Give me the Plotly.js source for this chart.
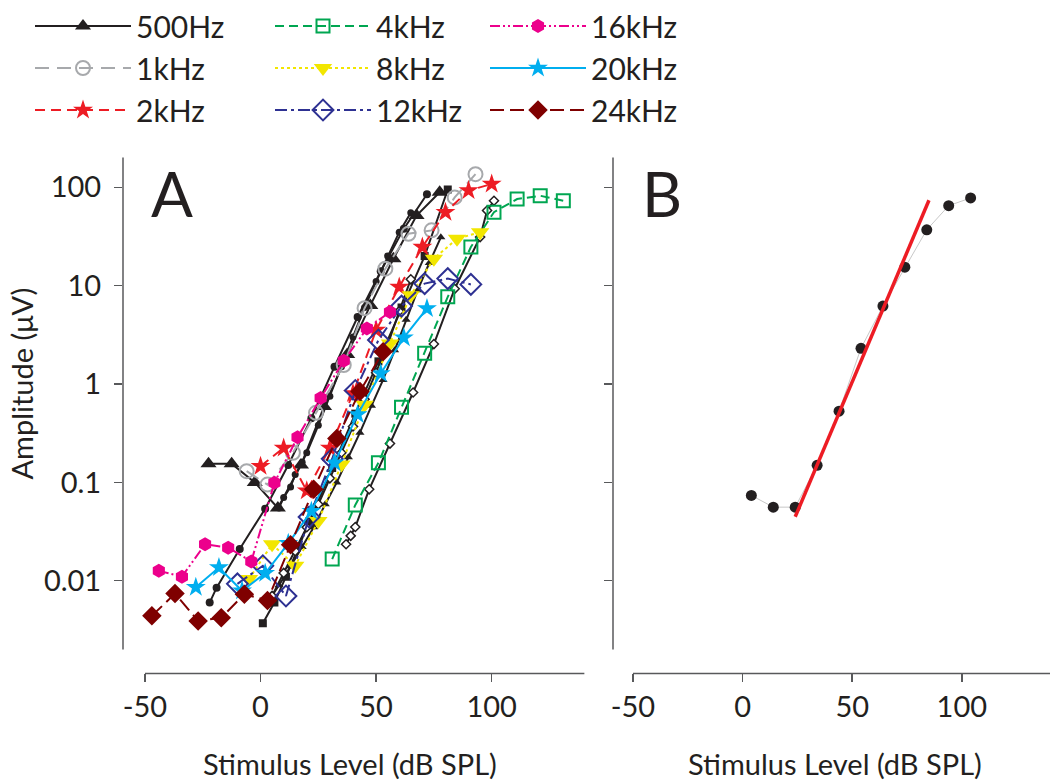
<!DOCTYPE html>
<html>
<head>
<meta charset="utf-8">
<script src="https://cdn.plot.ly/plotly-3.0.1.min.js"></script>
<style>
html,body{margin:0;padding:0;background:#fff;}
#chart{width:1050px;height:783px;}
</style>
</head>
<body>
<div id="chart"></div>
<script>
// ---------- Panel A data (Stimulus level dB SPL, amplitude µV) ----------
const x500 = [-22.5, -12.5, -2.5, 7.5, 17.5, 27.5, 37.5, 47.5, 57.5, 67.5, 77.5];
const y500 = [0.155, 0.155, 0.1, 0.055, 0.15, 0.59, 2.0, 6.3, 18.8, 51.7, 89];

const x1k = [-6, 3, 14, 24, 36, 45, 54, 64, 74, 84, 93];
const y1k = [0.13, 0.095, 0.2, 0.51, 1.56, 5.9, 14.9, 33.7, 36.5, 79, 136];

const x2k = [0, 10, 20, 30, 40, 50, 60, 70, 80, 90, 100];
const y2k = [0.146, 0.224, 0.082, 0.224, 0.8, 3.54, 9.7, 24.7, 55.8, 92.6, 108];

const x4k = [31, 41, 51, 61, 71, 81, 91, 101, 111, 121, 131];
const y4k = [0.0166, 0.059, 0.158, 0.58, 2.05, 7.7, 24.7, 55.9, 76, 82, 73];

const x8k = [-5, 5, 15, 25, 35, 45, 56, 65, 75, 85, 95];
const y8k = [0.0104, 0.0235, 0.0142, 0.0405, 0.152, 0.615, 2.59, 8.0, 18.8, 30, 35];

const x12k = [-10, 1, 11, 21, 31, 41, 51, 61, 71, 81, 91];
const y12k = [0.0093, 0.0142, 0.007, 0.0445, 0.174, 0.86, 2.8, 6.2, 10.5, 11.8, 10.3];

const x16k = [-44, -34, -24, -14, -4, 6, 16, 26, 36, 46, 56];
const y16k = [0.0126, 0.011, 0.0235, 0.0217, 0.0157, 0.099, 0.287, 0.72, 1.72, 3.67, 5.4];

const x20k = [-28, -18, -8, 2, 12, 22, 32, 42, 52, 62, 72];
const y20k = [0.0086, 0.0136, 0.0079, 0.0119, 0.024, 0.051, 0.158, 0.49, 1.28, 2.96, 5.86];

const x24k = [-47, -37, -27, -17, -7, 3, 13, 23, 33, 43, 53];
const y24k = [0.0044, 0.0074, 0.0039, 0.0042, 0.0073, 0.0063, 0.0232, 0.085, 0.28, 0.84, 2.13];

// unlabeled black series (other recordings)
const xK1 = [-22, -19, -9, 2, 12, 22, 32, 42, 52, 62, 72];
const yK1 = [0.006, 0.0085, 0.021, 0.054, 0.15, 0.45, 1.5, 4.8, 14, 38, 85];
const xK2 = [8, 10, 13, 15, 18, 20, 25, 30, 35, 40, 45, 50, 55, 60, 65];
const yK2 = [0.055, 0.07, 0.09, 0.12, 0.16, 0.2, 0.38, 0.75, 1.5, 3, 6, 11, 20, 35, 55];
const xK3 = [1, 6, 11, 21, 31, 41, 51, 61, 71, 81];
const yK3 = [0.0037, 0.006, 0.011, 0.04, 0.14, 0.5, 1.7, 6, 20, 95];
const xK4 = [3, 8, 13, 18, 23, 28, 33, 38, 43, 48, 53, 58, 63, 68, 73, 78];
const yK4 = [0.006, 0.009, 0.014, 0.022, 0.035, 0.06, 0.1, 0.18, 0.32, 0.6, 1.1, 2.2, 4.5, 9, 17, 31];
const xK5 = [5, 10, 15, 20, 25, 30, 35, 40, 45, 50, 55, 60, 65];
const yK5 = [0.007, 0.012, 0.02, 0.035, 0.06, 0.11, 0.2, 0.37, 0.7, 1.3, 2.5, 5.5, 11.6];
const xK6 = [37, 39, 41, 47, 56, 66, 75, 84, 95, 98, 101];
const yK6 = [0.0235, 0.0286, 0.0352, 0.085, 0.248, 0.82, 2.55, 9.3, 31.2, 58, 73];

// ---------- Panel B data ----------
const xB = [4, 14, 24, 34, 44, 54, 64, 74, 84, 94, 104];
const yB = [0.0737, 0.056, 0.056, 0.149, 0.53, 2.31, 6.2, 15.4, 37, 65, 78];
const xFit = [24, 85];
const yFit = [0.0447, 73.8];

// tick labels
const xTickVals = [-50, 0, 50, 100];
const xTickText = ['-50', '0', '50', '100'];
const yTickVals = [0.01, 0.1, 1, 10, 100];
const yTickText = ['0.01', '0.1', '1', '10', '100'];

const FONT = 'Lato, "Open Sans", sans-serif';
const W = 1050, H = 783;
const px = v => v / W;
const py = v => 1 - v / H;

function black(x, y, sym, size, open) {
  return {
    x: x, y: y, type: 'scatter', mode: 'lines+markers', showlegend: false,
    xaxis: 'x', yaxis: 'y', hoverinfo: 'skip',
    line: {color: '#231f20', width: 2},
    marker: {symbol: sym, size: size, color: open ? '#ffffff' : '#231f20',
             line: {color: '#231f20', width: open ? 1.5 : 0}}
  };
}

function series(name, x, y, color, dash, sym, size, legend, open) {
  return {
    name: name, x: x, y: y, type: 'scatter', mode: 'lines+markers',
    xaxis: 'x', yaxis: 'y', legend: legend,
    line: {color: color, width: 2, dash: dash},
    marker: {symbol: sym, size: size, color: open ? 'rgba(255,255,255,0)' : color,
             line: {color: color, width: open ? 2 : 0}}
  };
}

const traces = [
  black(xK1, yK1, 'circle', 8, false),
  black(xK2, yK2, 'circle', 7, false),
  black(xK3, yK3, 'square', 8, false),
  black(xK4, yK4, 'triangle-up', 8, false),
  black(xK5, yK5, 'diamond', 7, true),
  black(xK6, yK6, 'diamond', 7, true),
  series('500Hz', x500, y500, '#231f20', 'solid', 'triangle-up', 14, 'legend', false),
  series('1kHz', x1k, y1k, '#a7a9ac', '14px,8px', 'circle', 14, 'legend', true),
  series('2kHz', x2k, y2k, '#ed1c24', '10px,6px', 'star', 15, 'legend', false),
  series('4kHz', x4k, y4k, '#00a651', '9px,5px', 'square', 13, 'legend2', true),
  series('8kHz', x8k, y8k, '#f2e600', 'dot', 'triangle-down', 16, 'legend2', false),
  series('12kHz', x12k, y12k, '#2e3192', '12px,4px,3px,4px', 'diamond', 16, 'legend2', true),
  series('16kHz', x16k, y16k, '#ec008c', '10px,3px,2px,3px,2px,3px', 'hexagon', 14, 'legend3', false),
  series('20kHz', x20k, y20k, '#00aeef', 'solid', 'star', 15, 'legend3', false),
  series('24kHz', x24k, y24k, '#7f0000', '14px,6px', 'diamond', 15, 'legend3', false),
  {x: xB, y: yB, type: 'scatter', mode: 'lines+markers', showlegend: false,
   xaxis: 'x2', yaxis: 'y2', line: {color: '#c8c8c8', width: 1},
   marker: {symbol: 'circle', size: 11, color: '#231f20'}},
  {x: xFit, y: yFit, type: 'scatter', mode: 'lines', showlegend: false,
   xaxis: 'x2', yaxis: 'y2', line: {color: '#ed1c24', width: 3.5}}
];

const yRange = [Math.log10(0.001142), Math.log10(201.4)];
const tickStyle = {ticks: 'outside', ticklen: 8, tickwidth: 1.5, tickcolor: '#58595b',
  showline: false, showgrid: false, zeroline: false,
  tickfont: {family: FONT, size: 29, color: '#231f20'}};

const legendBase = {orientation: 'v', yanchor: 'top', xanchor: 'left', y: py(-3),
  font: {family: FONT, size: 30, color: '#231f20'}, bgcolor: 'rgba(0,0,0,0)',
  tracegroupgap: 0, itemwidth: 96};

const layout = {
  width: W, height: H,
  margin: {l: 0, r: 0, t: 0, b: 0},
  paper_bgcolor: '#ffffff', plot_bgcolor: '#ffffff',
  font: {family: FONT, color: '#231f20'},
  xaxis: Object.assign({}, tickStyle, {domain: [px(123), px(584.6)], range: [-59.5, 140.2],
    anchor: 'y', tickvals: xTickVals, ticktext: xTickText, ticklabelstandoff: 0}),
  yaxis: Object.assign({}, tickStyle, {domain: [py(673), py(155)], type: 'log', range: yRange,
    anchor: 'x', tickvals: yTickVals, ticktext: yTickText, ticklabelstandoff: 7}),
  xaxis2: Object.assign({}, tickStyle, {domain: [px(613), 1], range: [-59.1, 140.2],
    anchor: 'y2', tickvals: xTickVals, ticktext: xTickText, ticklabelstandoff: 0}),
  yaxis2: Object.assign({}, tickStyle, {domain: [py(673), py(155)], type: 'log', range: yRange,
    anchor: 'x2', tickvals: yTickVals, showticklabels: false}),
  legend: Object.assign({}, legendBase, {x: px(30)}),
  legend2: Object.assign({}, legendBase, {x: px(270)}),
  legend3: Object.assign({}, legendBase, {x: px(485)}),
  shapes: [
    {type: 'line', xref: 'paper', yref: 'paper', x0: px(123), x1: px(123), y0: py(155), y1: py(649),
     line: {color: '#58595b', width: 1.5}},
    {type: 'line', xref: 'paper', yref: 'paper', x0: px(613), x1: px(613), y0: py(155), y1: py(649),
     line: {color: '#58595b', width: 1.5}},
    {type: 'line', xref: 'x', yref: 'paper', x0: -50, x1: 140.2, y0: py(673), y1: py(673),
     line: {color: '#58595b', width: 1.5}},
    {type: 'line', xref: 'x2', yref: 'paper', x0: -50, x1: 140.2, y0: py(673), y1: py(673),
     line: {color: '#58595b', width: 1.5}}
  ],
  annotations: [
    {text: 'A', xref: 'paper', yref: 'paper', x: px(172), y: py(191), showarrow: false,
     xanchor: 'center', yanchor: 'middle', font: {family: FONT, size: 62, color: '#231f20'}},
    {text: 'B', xref: 'paper', yref: 'paper', x: px(662), y: py(191), showarrow: false,
     xanchor: 'center', yanchor: 'middle', font: {family: FONT, size: 62, color: '#231f20'}},
    {text: 'Amplitude (μV)', xref: 'paper', yref: 'paper', x: px(22), y: py(382), showarrow: false,
     textangle: -90, xanchor: 'center', yanchor: 'middle', font: {family: FONT, size: 29, color: '#231f20'}},
    {text: 'Stimulus Level (dB SPL)', xref: 'paper', yref: 'paper', x: px(350), y: py(763), showarrow: false,
     xanchor: 'center', yanchor: 'middle', font: {family: FONT, size: 29, color: '#231f20'}},
    {text: 'Stimulus Level (dB SPL)', xref: 'paper', yref: 'paper', x: px(835), y: py(763), showarrow: false,
     xanchor: 'center', yanchor: 'middle', font: {family: FONT, size: 29, color: '#231f20'}}
  ]
};

Plotly.newPlot('chart', traces, layout, {displayModeBar: false, staticPlot: true});
</script>
</body>
</html>
